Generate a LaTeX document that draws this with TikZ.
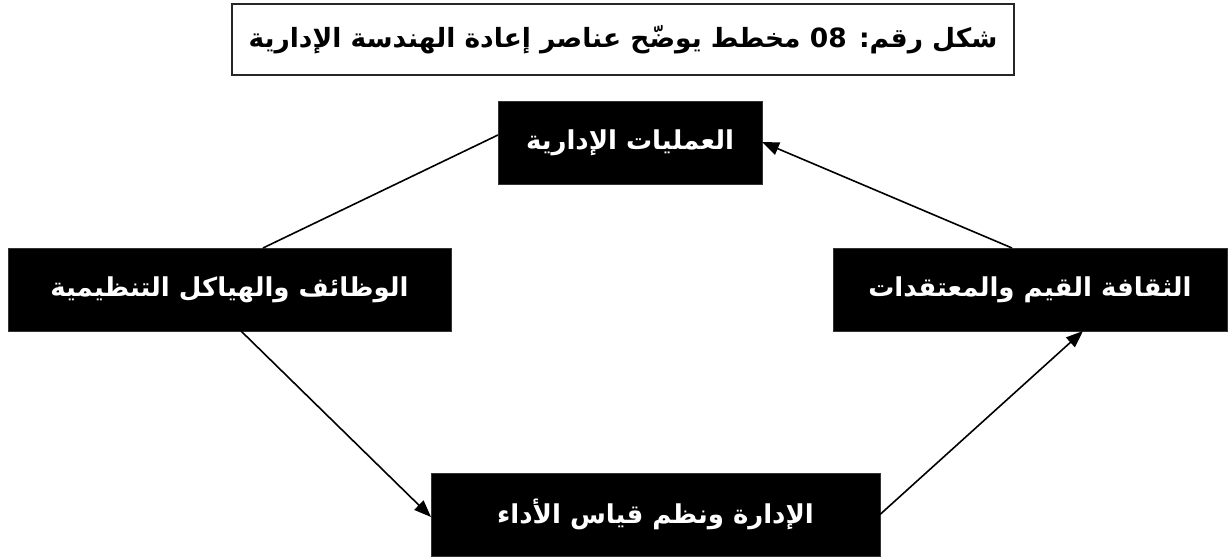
\documentclass[tikz,border=0pt]{standalone}
\usepackage{fontspec}
\TeXXeTstate=1
\newfontfamily\arabicfont[Script=Arabic]{DejaVu Sans}
\usetikzlibrary{arrows.meta}
\tikzset{
  blackbox/.style={fill=black, draw=black!80, line width=0.8pt, inner sep=0pt, outer sep=0pt,
    minimum height=83pt, text=white, font=\arabicfont\bfseries\fontsize{26}{30}\selectfont},
  titlebox/.style={draw=black!85, line width=1.5pt, fill=white, inner sep=0pt, outer sep=0pt,
    minimum width=782pt, minimum height=71pt, font=\arabicfont\bfseries\fontsize{26.5}{32}\selectfont},
  conn/.style={line width=1.6pt, draw=black},
  arr/.style={conn, -{Triangle[length=17pt,width=13pt]}}
}
\begin{document}
\begin{tikzpicture}[x=1pt,y=1pt]
\useasboundingbox[fill=white] (0,0) rectangle (1229,559);
\node[titlebox] (title) at (623,519.5) {\beginR شكل رقم: \beginL08\endL{} مخطط يوضّح عناصر إعادة الهندسة الإدارية\endR};
\node[blackbox, minimum width=264pt] (T) at (630,416.5) {\beginR العمليات الإدارية\endR};
\node[blackbox, minimum width=443pt] (L) at (229.5,269.5) {\beginR الوظائف والهياكل التنظيمية\endR};
\node[blackbox, minimum width=394pt] (R) at (1030,269.5) {\beginR الثقافة القيم والمعتقدات\endR};
\node[blackbox, minimum width=449pt] (B) at (655.5,44.5) {\beginR الإدارة ونظم قياس الأداء\endR};
\draw[conn] ([xshift=33.5pt]L.north) -- ([yshift=7.5pt]T.west);
\draw[arr] ([xshift=11.5pt]L.south) -- ([yshift=-2.5pt]B.west);
\draw[arr] (B.east) -- ([xshift=53pt]R.south);
\draw[arr] ([xshift=-18pt]R.north) -- ([yshift=0.5pt]T.east);
\end{tikzpicture}
\end{document}
